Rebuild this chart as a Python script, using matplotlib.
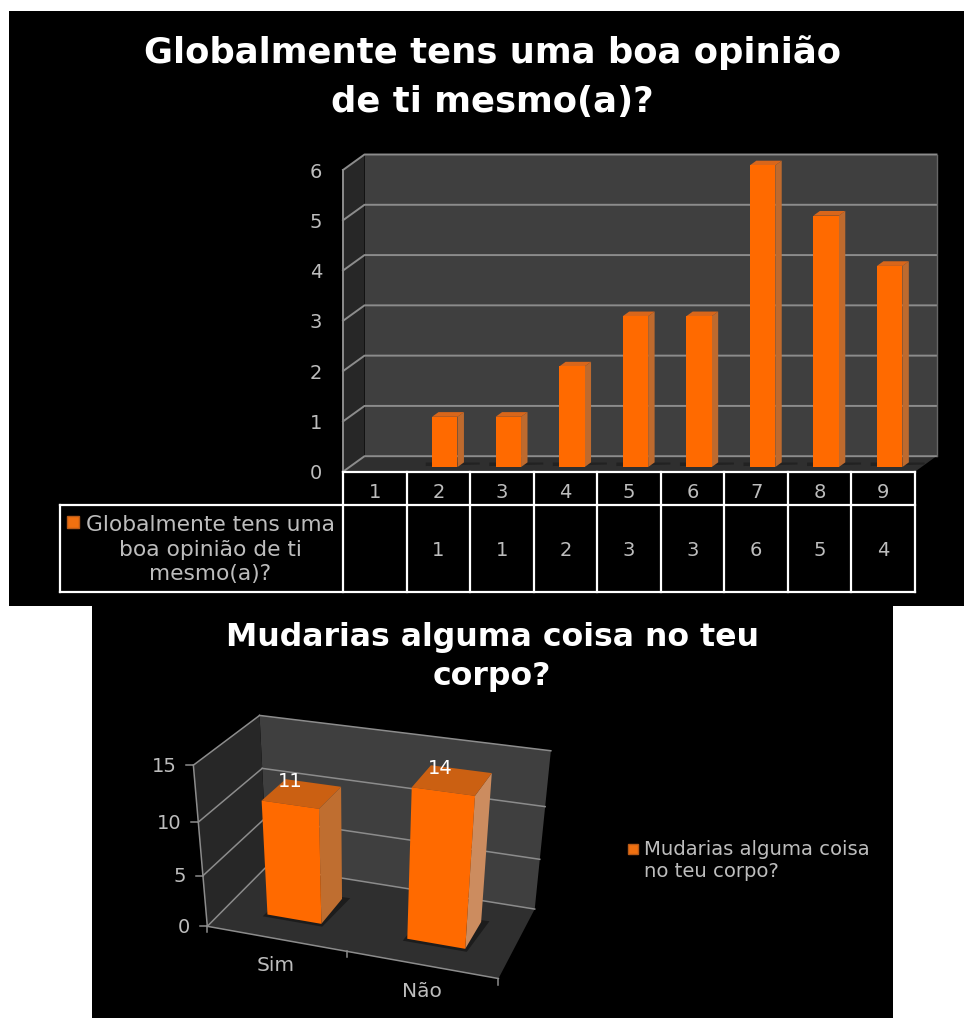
import numpy as np
import matplotlib
matplotlib.use("Agg")
import matplotlib.pyplot as plt
from matplotlib.patches import Polygon, Rectangle

# ---- data ----
title_top = "Globalmente tens uma boa opinião\nde ti mesmo(a)?"
title_low = "Mudarias alguma coisa no teu\ncorpo?"
scale_cats = [1, 2, 3, 4, 5, 6, 7, 8, 9]
scale_vals = [0, 1, 1, 2, 3, 3, 6, 5, 4]
scale_ticks = [0, 1, 2, 3, 4, 5, 6]
scale_legend = "Globalmente tens uma\nboa opinião de ti\nmesmo(a)?"
body_cats = ["Sim", "Não"]
body_vals = [11, 14]
body_ticks = [0, 5, 10, 15]
body_legend = "Mudarias alguma coisa\nno teu corpo?"

# ---- style ----
W, H = 964, 1018
ORANGE = "#FF6A00"
SIDE = "#BE6A2E"
TOP = "#D9661A"
BACK = "#3F3F3F"
LEFT = "#272727"
FLOOR = "#2F2F2F"
GRID = "#8C8C8C"
TXT = "#BDBDBD"
LIGHT = dict(family="DejaVu Sans", color=TXT)
TITLE = dict(family="DejaVu Sans", weight="bold", color="white", ha="center", va="center")

fig = plt.figure(figsize=(W / 100, H / 100), dpi=100, facecolor="white")

# pixel overlay for the backgrounds
bg = fig.add_axes([0, 0, 1, 1], zorder=0)
bg.set_xlim(0, W); bg.set_ylim(H, 0); bg.axis("off")
bg.add_patch(Rectangle((9, 11), W - 9, 595, fc="black", ec="none"))
bg.add_patch(Rectangle((92, 606), 801, H - 606, fc="black", ec="none"))
bg.text(492, 77, title_top, fontsize=25.5, linespacing=1.53, **TITLE)
bg.text(492, 657, title_low, fontsize=22.7, linespacing=1.34, **TITLE)

# ---------- top chart ----------
L, R, T, B = 343.0, 915.0, 170.0, 471.7
ax = fig.add_axes([L / W, 1 - B / H, (R - L) / W, (B - T) / H], zorder=1)
ax.set_xlim(0.5, 9.5); ax.set_ylim(0, 6)
ax.patch.set_alpha(0)
for s in ax.spines.values():
    s.set_visible(False)
DX = 21.5 / ((R - L) / 9)
DY = 15.5 / ((B - T) / 6)
x0, x1, y1 = 0.5, 9.5, 6

ax.add_patch(Polygon([(x0 + DX, DY), (x1 + DX, DY), (x1 + DX, y1 + DY), (x0 + DX, y1 + DY)], fc=BACK, ec="none", clip_on=False))
ax.add_patch(Polygon([(x0, 0), (x0 + DX, DY), (x0 + DX, y1 + DY), (x0, y1)], fc=LEFT, ec="none", clip_on=False))
ax.add_patch(Polygon([(x0, 0), (x1, 0), (x1 + DX, DY), (x0 + DX, DY)], fc=FLOOR, ec="none", clip_on=False))
for t in scale_ticks:
    ax.plot([x0, x0 + DX, x1 + DX], [t, t + DY, t + DY], color=GRID, lw=1.4, clip_on=False, zorder=1.5)
ax.plot([x0, x0], [0, 6], color=GRID, lw=1.4, clip_on=False, zorder=1.5)
ax.plot([x1 + DX] * 2, [DY, 6 + DY], color="#666666", lw=1, clip_on=False, zorder=1.5)

bw = 0.40
d0, d1 = 0.3, 0.6
for c, v in zip(scale_cats, scale_vals):
    if v == 0:
        continue
    xc = c + d0 * DX
    yb = d0 * DY
    xr = xc + bw / 2
    xl = xc - bw / 2
    dd = d1 - d0
    # floor shadow
    ax.add_patch(Polygon([(xl - .1, yb + .02), (xr + .35, yb + .05), (xr + .35, yb + .09), (xl - .1, yb + .09)],
                         fc="#222222", ec="none", clip_on=False, zorder=1.6))
    ax.add_patch(Polygon([(xr, yb), (xr + dd * DX, yb + dd * DY), (xr + dd * DX, yb + v + dd * DY), (xr, yb + v)],
                         fc=SIDE, ec="none", clip_on=False, zorder=2))
    ax.add_patch(Polygon([(xl, yb + v), (xl + dd * DX, yb + v + dd * DY), (xr + dd * DX, yb + v + dd * DY), (xr, yb + v)],
                         fc=TOP, ec="none", clip_on=False, zorder=2))
    ax.bar(xc, v, width=bw, bottom=yb, color=ORANGE, zorder=3, clip_on=False)

ax.set_xticks(scale_cats, [str(c) for c in scale_cats], fontsize=14, **LIGHT)
ax.set_yticks(scale_ticks, [str(t) for t in scale_ticks], fontsize=14, **LIGHT)
ax.tick_params(axis="x", length=0, pad=8)
ax.tick_params(axis="y", length=0, pad=15)

# data table below the chart
def ty(py):
    return (B - py) / (B - T)
xform = ax.get_xaxis_transform()
edges = [c - 0.5 for c in scale_cats] + [scale_cats[-1] + 0.5]
LEG_L = 60.0
leg_x = 0.5 - (L - LEG_L) / ((R - L) / 9)
kw = dict(color="white", lw=1.6, clip_on=False, transform=xform, zorder=4)
ax.plot([x0, x1], [ty(472.5)] * 2, **kw)
ax.plot([leg_x, x1], [ty(505.5)] * 2, **kw)
ax.plot([leg_x, x1], [ty(592.5)] * 2, **kw)
ax.plot([leg_x, leg_x], [ty(505.5), ty(592.5)], **kw)
for e in edges:
    ax.plot([e, e], [ty(472.5), ty(592.5)], **kw)
for c, v in zip(scale_cats, scale_vals):
    if v:
        ax.text(c, ty(550), str(v), transform=xform, ha="center", va="center", fontsize=14, clip_on=False, **LIGHT)
bg.add_patch(Rectangle((66.5, 516), 12, 12, fc="#F07010", ec="#B85A18", lw=1, zorder=6))
bg.text(210, 549.5, scale_legend, ha="center", va="center", fontsize=15.7, linespacing=1.28, zorder=6, **LIGHT)

# ---------- lower chart ----------
ax2 = fig.add_axes([0, 0, 1, 1], zorder=2)
ax2.set_xlim(0, W); ax2.set_ylim(H, 0); ax2.axis("off")

def zp(zx, zy):
    return (140 + zx / 3, 700 + zy / 3)

# model space (category position, depth, value) -> picture, fitted from wall corners
model = [(0, 0, 0), (2, 0, 0), (0, 1, 0), (2, 1, 0), (0, 1, 15), (2, 1, 15), (0, 0, 15)]
pics = [zp(205, 680), zp(1075, 835), zp(378, 497), zp(1185, 628), zp(362, 47), zp(1232, 152), zp(157, 195)]
A = []
for (u, d, h), (px, py) in zip(model, pics):
    A.append([u, d, h, 1, 0, 0, 0, 0, -px * u, -px * d, -px * h, -px])
    A.append([0, 0, 0, 0, u, d, h, 1, -py * u, -py * d, -py * h, -py])
P = np.linalg.svd(np.array(A, float))[2][-1].reshape(3, 4)

def proj(u, d, h):
    q = P @ np.array([u, d, h, 1.0])
    return (q[0] / q[2], q[1] / q[2])

def poly(pts, **k):
    ax2.add_patch(Polygon([proj(*p) for p in pts], ec="none", **k))

poly([(0, 1, 0), (2, 1, 0), (2, 1, 15), (0, 1, 15)], fc=BACK, zorder=1)
poly([(0, 0, 0), (0, 1, 0), (0, 1, 15), (0, 0, 15)], fc=LEFT, zorder=1)
poly([(0, 0, 0), (2, 0, 0), (2, 1, 0), (0, 1, 0)], fc=FLOOR, zorder=1)

def seg(a, b, **k):
    pa, pb = proj(*a), proj(*b)
    ax2.plot([pa[0], pb[0]], [pa[1], pb[1]], color=GRID, lw=1.1, zorder=1.5, **k)

for t in body_ticks:
    seg((0, 0, t), (0, 1, t))
    seg((0, 1, t), (2, 1, t))
    px, py = proj(0, 0, t)
    ax2.plot([px - 7, px], [py, py], color=GRID, lw=1.1, zorder=1.5)
    ax2.text(px - 17, py + 1, str(t), ha="right", va="center", fontsize=14, **LIGHT)
seg((0, 0, 0), (0, 0, 15))
seg((0, 0, 0), (2, 0, 0))
for u in [0, 1, 2]:
    px, py = proj(u, 0, 0)
    ax2.plot([px, px], [py, py + 6], color=GRID, lw=1.1, zorder=1.5)

bh = 0.197
bd0, bd1 = 0.295, 0.69
side_cols = ["#BF6E30", "#CC8C5F"]
top_cols = ["#CB6012", "#CB6012"]
for i, (name, v) in enumerate(zip(body_cats, body_vals)):
    c = i + 0.507
    a, b = c - bh, c + bh
    poly([(a - .02, bd0 - .035, 0), (b + .02, bd0 - .035, 0), (b + .05, bd1 + .03, 0), (a, bd1, 0)], fc="#1C1C1C", zorder=1.8)
    poly([(b, bd0, 0), (b, bd1, 0), (b, bd1, v), (b, bd0, v)], fc=side_cols[i], zorder=2)
    poly([(a, bd0, v), (b, bd0, v), (b, bd1, v), (a, bd1, v)], fc=top_cols[i], zorder=2)
    poly([(a, bd0, 0), (b, bd0, 0), (b, bd0, v), (a, bd0, v)], fc=ORANGE, zorder=3)
    tx, ty_ = proj(c, (bd0 + bd1) / 2, v)
    ax2.text(tx - 12, ty_ - 12, str(v), ha="center", va="center", fontsize=14, color="white", zorder=5)
    lx, ly = proj(i + 0.5, 0, 0)
    ax2.text(lx, ly + 27, name, ha="center", va="center", fontsize=14.5, **LIGHT)

ax2.add_patch(Rectangle((628, 844), 10, 10, fc="#F07010", ec="#B85A18", lw=1, zorder=6))
ax2.text(644, 860.5, body_legend, ha="left", va="center", fontsize=14.1, linespacing=1.2, **LIGHT)

fig.savefig("out.png", dpi=100, facecolor="white")
